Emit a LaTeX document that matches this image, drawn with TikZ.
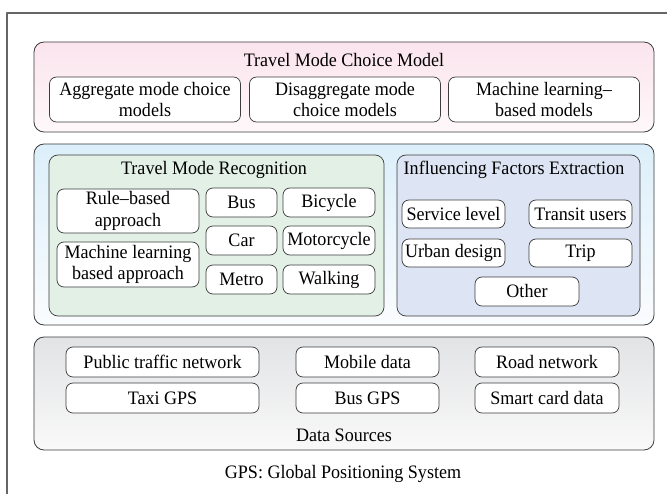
\documentclass[tikz,border=0pt]{standalone}
\usepackage{fontspec}
\setmainfont[FakeStretch=0.95]{Liberation Serif}
\definecolor{pinktop}{RGB}{251,228,237}
\definecolor{pinkbot}{RGB}{254,248,250}
\definecolor{bluetop}{RGB}{220,239,250}
\definecolor{bluebot}{RGB}{250,252,254}
\definecolor{greenfill}{RGB}{226,240,230}
\definecolor{lilacfill}{RGB}{221,228,243}
\definecolor{greytop}{RGB}{226,227,229}
\definecolor{greybot}{RGB}{249,249,249}
\definecolor{edge}{RGB}{60,60,60}
\tikzset{
  layer/.style={draw=edge, line width=0.8bp, rounded corners=10bp, inner sep=0pt, outer sep=0pt, minimum width=620bp},
  group/.style={draw=edge, line width=0.7bp, rounded corners=9bp, inner sep=0pt, outer sep=0pt, minimum height=161bp},
  item/.style={draw=edge, fill=white, line width=0.7bp, rounded corners=7bp, inner sep=0pt, outer sep=0pt, align=center},
}
\begin{document}
\begin{tikzpicture}[x=1bp, y=-1bp, font=\fontsize{19bp}{21.5bp}\selectfont, line join=round, line cap=round]
	\useasboundingbox (0,0) rectangle (667,494);
	\draw[black!60, line width=1.1bp] (7,494)--(7,13)--(667,13);
	% choice model
	\node[layer, top color=pinktop, bottom color=pinkbot, minimum height=90bp] (choice) at (344,87) {};
	\node (choicetitle) at (344,60) {Travel Mode Choice Model};
	\node[item, minimum width=191bp, minimum height=45bp] (aggr) at (145,99.5) {Aggregate mode choice\\models};
	\node[item, minimum width=191bp, minimum height=45bp] (disaggr) at (345,99.5) {Disaggregate mode\\choice models};
	\node[item, minimum width=191bp, minimum height=45bp] (mlmodels) at (544,99.5) {Machine learning--\\based models};
	% recognition and factors
	\node[layer, top color=bluetop, bottom color=bluebot, minimum height=181bp] (middle) at (344,234.5) {};
	\node[group, fill=greenfill, minimum width=335bp] (recog) at (216.5,235.5) {};
	\node (recogtitle) at (214,170) {Travel Mode Recognition};
	\node[item, minimum width=142bp, minimum height=44bp] (rule) at (128,211) {Rule--based\\approach};
	\node[item, minimum width=142bp, minimum height=45bp] (mlappr) at (128,264.5) {Machine learning\\based approach};
	\foreach \name/\y/\a/\b in {r1/202.5/Bus/Bicycle, r2/240.5/Car/Motorcycle, r3/279.5/Metro/Walking}{
		\node[item, minimum width=71bp, minimum height=29bp] (\name a) at (241.5,\y) {\a};
		\node[item, minimum width=92bp, minimum height=29bp] (\name b) at (329,\y) {\b};
	}
	\node[group, fill=lilacfill, minimum width=243bp] (factors) at (518.5,235.5) {};
	\node (factorstitle) at (514,170) {Influencing Factors Extraction};
	\node[item, minimum width=103bp, minimum height=28bp] (service) at (453.5,214) {Service level};
	\node[item, minimum width=103bp, minimum height=28bp] (transit) at (580.5,214) {Transit users};
	\node[item, minimum width=103bp, minimum height=28bp] (urban) at (453.5,253) {Urban design};
	\node[item, minimum width=103bp, minimum height=28bp] (trip) at (580.5,253) {Trip};
	\node[item, minimum width=104bp, minimum height=29bp] (other) at (527,291.5) {Other};
	% data sources
	\node[layer, top color=greytop, bottom color=greybot, minimum height=113bp] (data) at (344,393.5) {};
	\node[item, minimum width=193bp, minimum height=30bp] (public) at (162.5,362) {Public traffic network};
	\node[item, minimum width=193bp, minimum height=30bp] (taxi) at (162.5,398) {Taxi GPS};
	\node[item, minimum width=143bp, minimum height=30bp] (mobile) at (367.5,362) {Mobile data};
	\node[item, minimum width=143bp, minimum height=30bp] (busgps) at (367.5,398) {Bus GPS};
	\node[item, minimum width=144bp, minimum height=30bp] (road) at (547,362) {Road network};
	\node[item, minimum width=144bp, minimum height=30bp] (smart) at (547,398) {Smart card data};
	\node (datatitle) at (344,435) {Data Sources};
	\node (caption) at (343,474) {GPS: Global Positioning System};
\end{tikzpicture}
\end{document}
